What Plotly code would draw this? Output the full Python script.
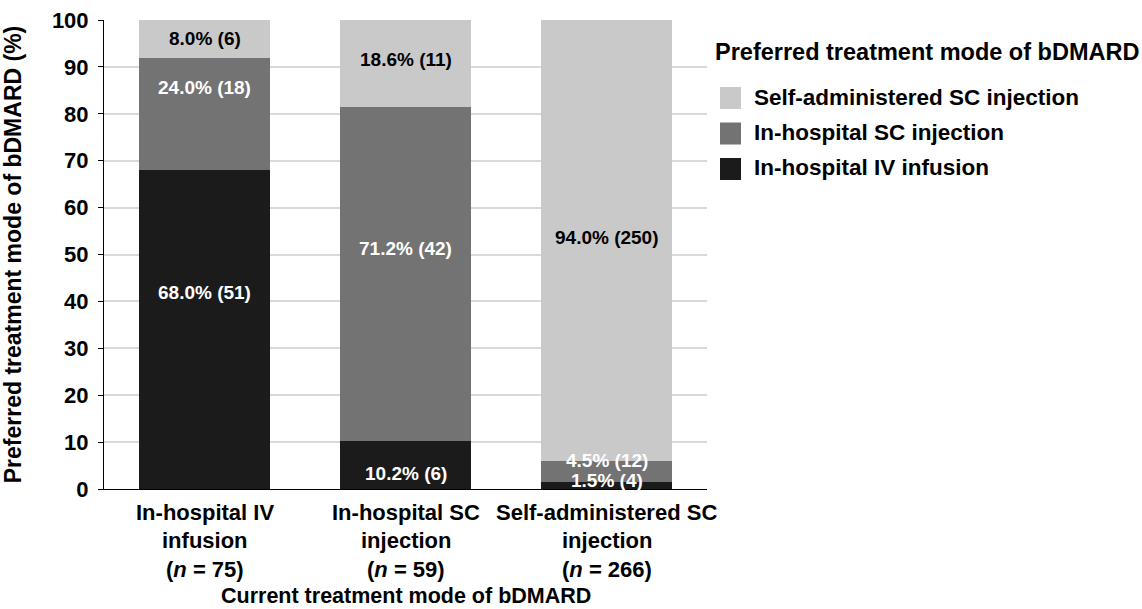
import plotly.graph_objects as go

# Current treatment mode groups (x axis), one entry per line of the label
categories = ["In-hospital IV infusion", "In-hospital SC injection",
              "Self-administered SC injection"]
category_lines = [
    ["In-hospital IV", "infusion", "(<i>n</i> = 75)"],
    ["In-hospital SC", "injection", "(<i>n</i> = 59)"],
    ["Self-administered SC", "injection", "(<i>n</i> = 266)"],
]

# Preferred treatment mode: percentage and patient count per group
iv_pct = [68.0, 10.2, 1.5]
iv_n = [51, 6, 4]
hsc_pct = [24.0, 71.2, 4.5]
hsc_n = [18, 42, 12]
self_pct = [8.0, 18.6, 94.0]
self_n = [6, 11, 250]

series = [
    ("In-hospital IV infusion", iv_pct, iv_n, "#1b1b1b", "white"),
    ("In-hospital SC injection", hsc_pct, hsc_n, "#737373", "white"),
    ("Self-administered SC injection", self_pct, self_n, "#c9c9c9", "black"),
]

# small vertical nudges (px) for segment labels, per series and group
label_nudge = [
    [37, -8, 5],
    [26, 26, 11],
    [0, 4, 3],
]

FONT = "Liberation Sans, Arial, sans-serif"

# plot area geometry in pixels (used to place the hand-built legend)
W, H = 1142, 609
L, R, T, B = 104, 435, 20, 120
PW, PH = W - L - R, H - T - B


def px_x(px):
    return (px - L) / PW


def px_y(py):
    return (H - B - py) / PH


fig = go.Figure()
base = [0.0, 0.0, 0.0]
annotations = []
for (name, pct, cnt, color, txtcol), nudges in zip(series, label_nudge):
    fig.add_trace(go.Bar(
        name=name,
        x=categories,
        y=pct,
        marker=dict(color=color, line=dict(width=0)),
        width=0.65,
        showlegend=False,
    ))
    for i, (p, c) in enumerate(zip(pct, cnt)):
        annotations.append(dict(
            x=categories[i], y=base[i] + p / 2, xref="x", yref="y",
            text=f"{p:.1f}% ({c})", showarrow=False, yshift=nudges[i],
            font=dict(family=FONT, size=19, color=txtcol, weight="bold"),
        ))
        base[i] += p

# category labels under each bar, written line by line
for cat, lines in zip(categories, category_lines):
    for j, line in enumerate(lines):
        annotations.append(dict(
            x=cat, y=0, xref="x", yref="paper",
            yanchor="middle", yshift=-(23 + 28.5 * j), showarrow=False,
            text=line,
            font=dict(family=FONT, size=22, color="black", weight="bold"),
        ))

# x axis title
annotations.append(dict(
    x=0.5, y=px_y(595.5), xref="paper", yref="paper",
    xanchor="center", yanchor="middle", showarrow=False,
    text="Current treatment mode of bDMARD",
    font=dict(family=FONT, size=21.5, color="black", weight="bold"),
))

# legend: title plus one swatch and label per preferred mode, top item first
shapes = []
annotations.append(dict(
    x=px_x(713), y=px_y(52), xref="paper", yref="paper",
    xanchor="left", yanchor="middle", showarrow=False,
    text="Preferred treatment mode of bDMARD",
    font=dict(family=FONT, size=23.5, color="black", weight="bold"),
))
for k, (name, pct, cnt, color, txtcol) in enumerate(reversed(series)):
    cy = 98 + k * 35.5
    shapes.append(dict(
        type="rect", xref="paper", yref="paper",
        x0=px_x(720), x1=px_x(741), y0=px_y(cy - 11), y1=px_y(cy + 11),
        fillcolor=color, line=dict(width=0),
    ))
    annotations.append(dict(
        x=px_x(752), y=px_y(cy - 1), xref="paper", yref="paper",
        xanchor="left", yanchor="middle", showarrow=False,
        text=name,
        font=dict(family=FONT, size=22.5, color="black", weight="bold"),
    ))

fig.update_layout(
    width=W, height=H,
    barmode="stack",
    plot_bgcolor="white",
    paper_bgcolor="white",
    margin=dict(l=L, r=R, t=T, b=B),
    font=dict(family=FONT, size=20, color="black", weight="bold"),
    annotations=annotations,
    shapes=shapes,
    showlegend=False,
    xaxis=dict(
        range=[-0.5, 2.5], autorange=False,
        showticklabels=False,
        showline=True, linecolor="black", linewidth=1,
        ticks="", showgrid=False, automargin=False,
    ),
    yaxis=dict(
        title=dict(text="Preferred treatment mode of bDMARD (%)", standoff=24,
                   font=dict(size=23, weight="bold")),
        range=[0, 100], autorange=False, dtick=10,
        tickfont=dict(size=22, weight="bold"),
        showline=True, linecolor="black", linewidth=1,
        ticks="outside", ticklen=5, tickcolor="black",
        ticklabelstandoff=5,
        showgrid=True, gridcolor="#d9d9d9", gridwidth=1.5,
        zeroline=False, automargin=False,
    ),
)

fig.write_html("out.html")
